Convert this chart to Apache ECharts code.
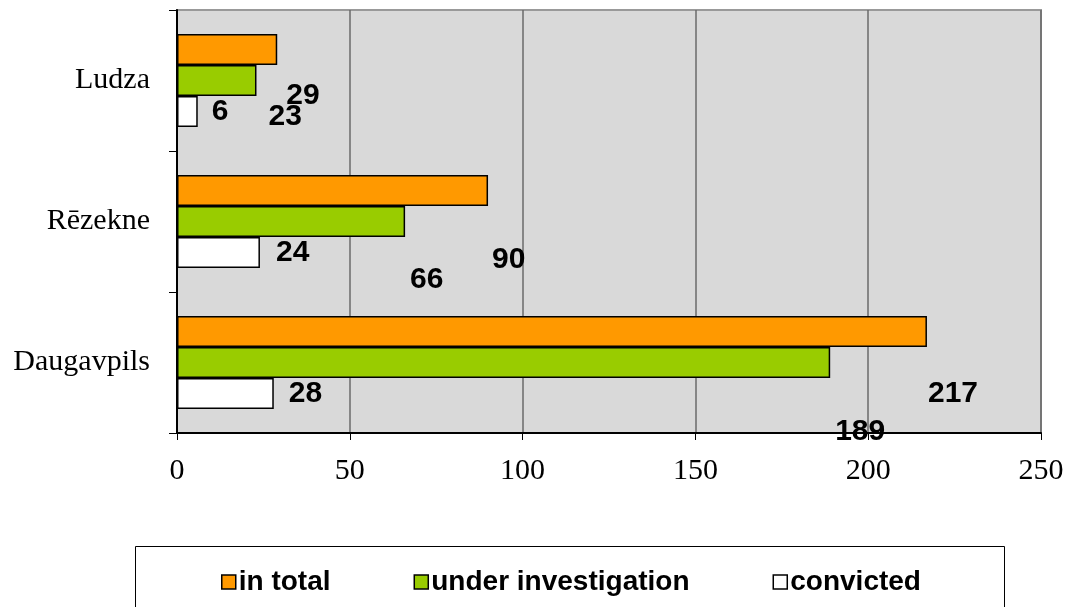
<!DOCTYPE html>
<html>
<head>
<meta charset="utf-8">
<title>Criminal cases by city</title>
<script src="https://cdn.jsdelivr.net/npm/echarts@6/dist/echarts.min.js"></script>
<style>
  html, body { margin: 0; padding: 0; background: #ffffff; }
  #chart { width: 1069px; height: 607px; }
</style>
</head>
<body>
<div id="chart"></div>
<script>
// Cities, top to bottom
const cities = ['Ludza', 'Rēzekne', 'Daugavpils'];

// Case counts per city
const inTotal = [29, 90, 217];
const underInvestigation = [23, 66, 189];
const convicted = [6, 24, 28];

// Value axis ticks
const xTicks = [0, 50, 100, 150, 200, 250];

// Label nudges [dx, dy] per series, per city (keeps the numbers clear of the bars)
const nudgeTotal = [[4, 46], [-1, 69], [-4, 62]];
const nudgeInvestigation = [[7, 36], [0, 58], [0, 69]];
const nudgeConvicted = [[9, 0], [11, 0], [10, 0]];

const serifFont = '"Liberation Serif", "Times New Roman", serif';
const sansFont = '"Liberation Sans", Arial, sans-serif';

function buildData(values, nudges) {
  return values.map((v, i) => ({ value: v, label: { offset: nudges[i] } }));
}

function makeSeries(name, color, values, nudges) {
  return {
    name: name,
    type: 'bar',
    barWidth: 31,
    barGap: '0%',
    itemStyle: { color: color, borderColor: '#000', borderWidth: 1.5 },
    label: {
      show: true,
      position: 'right',
      distance: 5,
      color: '#000',
      fontFamily: sansFont,
      fontWeight: 'bold',
      fontSize: 30
    },
    z: 3,
    data: buildData(values, nudges)
  };
}

const chart = echarts.init(document.getElementById('chart'), null, { renderer: 'canvas' });

chart.setOption({
  animation: false,
  backgroundColor: '#ffffff',
  grid: {
    left: 177, right: 28, top: 10, bottom: 174,
    show: true,
    backgroundColor: '#d9d9d9',
    borderColor: '#999999',
    borderWidth: 2
  },
  xAxis: {
    type: 'value',
    min: xTicks[0],
    max: xTicks[xTicks.length - 1],
    interval: xTicks[1] - xTicks[0],
    axisLine: { show: true, lineStyle: { color: '#000', width: 2 } },
    axisTick: { show: true, length: 7, lineStyle: { color: '#000', width: 1 } },
    splitLine: { show: true, lineStyle: { color: '#6a6a6a', width: 1.5 } },
    axisLabel: {
      color: '#000',
      fontFamily: serifFont,
      fontSize: 30,
      margin: 23
    }
  },
  yAxis: {
    type: 'category',
    inverse: true,
    data: cities,
    axisLine: { show: true, lineStyle: { color: '#000', width: 2 } },
    axisTick: { show: true, length: 8, alignWithLabel: false, lineStyle: { color: '#000', width: 1 } },
    axisLabel: {
      color: '#000',
      fontFamily: serifFont,
      fontSize: 30,
      margin: 27
    },
    splitLine: { show: false }
  },
  legend: {
    data: ['in total', 'under investigation', 'convicted'],
    left: 216,
    top: 563,
    orient: 'horizontal',
    icon: 'rect',
    itemWidth: 14,
    itemHeight: 14,
    itemGap: 83,
    itemStyle: { borderColor: '#000', borderWidth: 1.5 },
    textStyle: {
      color: '#000',
      fontFamily: sansFont,
      fontWeight: 'bold',
      fontSize: 28,
      padding: [0, 0, 0, -2]
    }
  },
  graphic: [{
    type: 'rect',
    left: 133,
    top: 544,
    shape: { width: 869, height: 80 },
    style: { fill: 'none', stroke: '#000', lineWidth: 1 },
    silent: true,
    z: -1
  }],
  series: [
    makeSeries('in total', '#ff9900', inTotal, nudgeTotal),
    makeSeries('under investigation', '#99cc00', underInvestigation, nudgeInvestigation),
    makeSeries('convicted', '#ffffff', convicted, nudgeConvicted)
  ]
});
</script>
</body>
</html>
